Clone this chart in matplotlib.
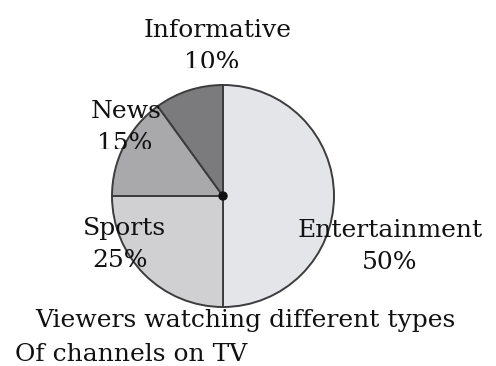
import matplotlib.pyplot as plt
from matplotlib.patches import Circle
from matplotlib.transforms import Bbox, TransformedBbox

# channel shares
channels = ["Entertainment", "Sports", "News", "Informative"]
shares = [50, 25, 15, 10]
colors = ["#e4e5e9", "#d0d0d3", "#a9a9ab", "#7b7b7d"]

# label placement in pixels from top-left: (name x, pct x, baseline y, cut line for the % row)
label_pos = {
    "Entertainment": (390, 390, 237, 269),
    "Sports": (124, 120, 235, 268),
    "News": (126, 125, 118, 149),
    "Informative": (218, 212, 37, 68),
}
line_gap = 32

W, H = 496, 366
fig = plt.figure(figsize=(W / 100, H / 100), dpi=100)
ax = fig.add_axes([0, 0, 1, 1])

cx, cy, r = 223, H - 196, 111
ax.pie(shares, colors=colors, startangle=90, counterclock=False,
       center=(cx, cy), radius=r,
       wedgeprops=dict(edgecolor="#3c3c3c", linewidth=1.4))
ax.add_patch(Circle((cx, cy), 4, color="#111111", zorder=5))

font = dict(family="DejaVu Serif", fontsize=18, color="#111111")
for name, val in zip(channels, shares):
    xn, xp, yb, yc = label_pos[name]
    ax.text(xn, H - yb, name, ha="center", va="baseline", **font)
    t = ax.text(xp, H - yb - line_gap, f"{val}%", ha="center", va="baseline", **font)
    # the percentage row is cut short along a horizontal line
    t.set_clip_path(None)
    t.set_clip_box(TransformedBbox(Bbox([[0, H - yc], [W, H]]), ax.transData))
    t.set_clip_on(True)

ax.text(35, H - 327, "Viewers watching different types", ha="left", va="baseline", **font)
ax.text(15, H - 361, "Of channels on TV", ha="left", va="baseline", **font)

ax.set_xlim(0, W)
ax.set_ylim(0, H)
ax.set_aspect("equal")
ax.axis("off")

fig.savefig("out.png", dpi=100)
